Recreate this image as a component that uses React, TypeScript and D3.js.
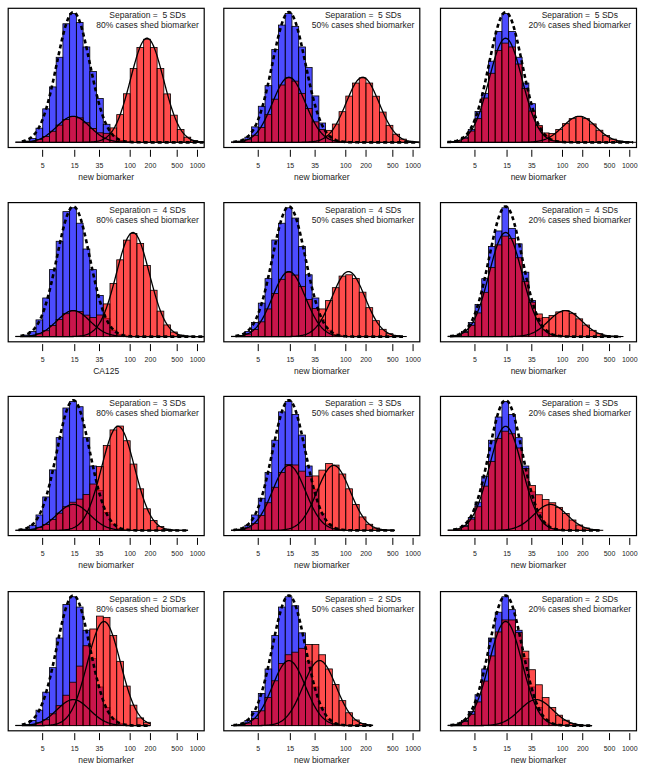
import React from "react";
import * as d3 from "d3";

// ---------- data ----------
const tickValues = [5, 15, 35, 100, 200, 500, 1000];
const separationSDs = [5, 4, 3, 2]; // one per row
const shedPercent = [80, 50, 20]; // one per column
const xAxisTitles = [
  ["new biomarker", "new biomarker", "new biomarker"],
  ["CA125", "new biomarker", "new biomarker"],
  ["new biomarker", "new biomarker", "new biomarker"],
  ["new biomarker", "new biomarker", "new biomarker"],
];

// histogram bins on log10 scale: first edge and width
const binStartLog10 = 0.3;
const binWidthLog10 = 0.1;

// control (blue) histograms, % of panel maximum
const controls5sd80 = [0.3, 1, 3, 11, 26, 43, 66, 92, 100, 93, 74, 55, 34, 14, 5, 1.5, 0.4, 0];
const controls5sd50 = [0.3, 1, 4, 12, 28, 44, 72, 91, 100, 90, 74, 58, 36, 15, 5, 1.5, 0.4, 0];
const controls5sd20 = [0.3, 1, 4, 10, 24, 38, 63, 86, 100, 86, 66, 46, 30, 12, 5, 1.5, 0.4, 0];
const controls4sd80 = [0.3, 1.2, 4, 13, 30, 52, 74, 97, 100, 88, 68, 52, 32, 14, 5, 1.5, 0.4, 0];
const controls4sd50 = [0.3, 1, 4, 11, 26, 45, 75, 88, 100, 92, 70, 48, 30, 13, 5, 1.5, 0.4, 0];
const controls4sd20 = [0.3, 1, 4, 11, 25, 45, 70, 82, 100, 84, 72, 50, 28, 14, 5, 1.5, 0.4, 0];
const controls3sd80 = [0.3, 1, 4, 12, 26, 47, 72, 95, 100, 96, 72, 50, 31, 14, 5, 1.5, 0.4, 0];
const controls3sd50 = [0.3, 1, 4, 12, 25, 45, 70, 92, 100, 90, 74, 50, 32, 13, 5, 1.5, 0.4, 0];
const controls3sd20 = [0.3, 1, 4, 10, 22, 42, 70, 88, 100, 90, 72, 50, 30, 14, 5, 1.5, 0.4, 0];
const controls2sd80 = [0.3, 1, 4, 12, 26, 45, 68, 94, 100, 92, 74, 52, 30, 14, 5, 1.5, 0.4, 0];
const controls2sd50 = [0.3, 1, 4, 11, 25, 44, 70, 92, 100, 93, 72, 50, 30, 14, 5, 1.5, 0.4, 0];
const controls2sd20 = [0.3, 1, 4, 11, 24, 44, 68, 88, 100, 90, 74, 52, 30, 14, 5, 1.5, 0.4, 0];

// case (red) histograms, % of panel maximum
const cases5sd80 = [0.1, 0.3, 0.8, 2.2, 4.6, 8.6, 13.4, 17.8, 20, 19, 15.2, 10.8, 7.4, 7, 11.2, 21.5, 37.7, 57.3, 73.6, 80, 73.6, 57.3, 37.6, 21.1, 10, 4, 1.4, 0.4];
const cases5sd50 = [0.2, 0.7, 2, 5.5, 11.5, 21.5, 33.5, 44.5, 50, 47.5, 38, 26.3, 15.9, 10, 9.3, 14.2, 23.8, 35.9, 46, 50, 46, 35.8, 23.5, 13.2, 6.3, 2.5, 0.9, 0.3];
const cases5sd20 = [0.3, 1, 3.2, 8.8, 18.4, 34.4, 53.6, 71.2, 77, 74, 60.8, 41.7, 24.3, 13, 7.3, 6.9, 9.9, 14.5, 18.4, 20, 18.4, 14.3, 9.4, 5.3, 2.5, 1, 0.3, 0.1];
const cases4sd80 = [0.1, 0.3, 0.8, 2.2, 4.6, 8.6, 13.4, 17.8, 20, 19.4, 16.7, 14.8, 16.8, 25.4, 41.2, 59.6, 74.9, 80, 72.3, 55.2, 36, 19.8, 9.1, 3.6, 1.2, 0.3, 0, 0];
const cases4sd50 = [0.2, 0.7, 2, 5.5, 11.5, 21.5, 33.5, 44.5, 50, 47.8, 39, 28.8, 21.8, 21.5, 28, 38, 47, 48, 45.2, 34.5, 22.5, 12.4, 5.7, 2.3, 0.8, 0.2, 0, 0];
const cases4sd20 = [0.3, 1, 3.2, 8.8, 18.4, 34.4, 53.6, 71.2, 78, 76.1, 61.2, 42.7, 26.7, 17.6, 14.8, 16.4, 19.2, 20.2, 18.1, 13.8, 9, 4.9, 2.3, 0.9, 0.3, 0.1, 0, 0];
const cases3sd80 = [0.1, 0.3, 0.8, 2.2, 4.6, 8.6, 13.4, 18.4, 21.9, 24.3, 27.9, 36, 49.6, 65.9, 78, 81, 69.6, 51.5, 32.3, 16.8, 7.7, 3, 1, 0.2, 0, 0, 0, 0];
const cases3sd50 = [0.2, 0.7, 2, 5.5, 11.5, 21.5, 33.5, 44.9, 51.2, 50.8, 46, 42, 42.3, 46.8, 52, 50.7, 43.8, 32.3, 20.2, 10.5, 4.8, 1.9, 0.6, 0.2, 0, 0, 0, 0];
const cases3sd20 = [0.3, 1, 3.2, 8.8, 18.4, 34.4, 53.6, 71.3, 77, 75, 64, 48, 34.9, 27.7, 24, 21.5, 17.9, 13.1, 8.1, 4.2, 1.9, 0.7, 0.2, 0, 0, 0, 0, 0];
const cases2sd80 = [0.1, 0.3, 0.8, 2.2, 4.6, 9.2, 15.5, 23.6, 33.7, 46.2, 62, 75, 85, 84, 70, 49.9, 30.7, 15.9, 6, 2.6, 0, 0, 0, 0, 0, 0, 0, 0];
const cases2sd50 = [0.2, 0.7, 2, 5.5, 11.5, 21.9, 34.8, 48.2, 55, 57, 60, 63, 63, 55, 44, 32, 19.4, 10, 4.4, 1.7, 0.5, 0, 0, 0, 0, 0, 0, 0];
const cases2sd20 = [0.3, 1, 3.2, 8.8, 18.4, 34.6, 54.1, 72.7, 82, 82, 72.2, 57.8, 43.4, 31.7, 21.8, 14, 8.1, 4.2, 1.8, 0.7, 0.2, 0, 0, 0, 0, 0, 0, 0];

const controlHists = [
  [controls5sd80, controls5sd50, controls5sd20],
  [controls4sd80, controls4sd50, controls4sd20],
  [controls3sd80, controls3sd50, controls3sd20],
  [controls2sd80, controls2sd50, controls2sd20],
];
const caseHists = [
  [cases5sd80, cases5sd50, cases5sd20],
  [cases4sd80, cases4sd50, cases4sd20],
  [cases3sd80, cases3sd50, cases3sd20],
  [cases2sd80, cases2sd50, cases2sd20],
];

// normal density curves (log10 scale)
const controlMeanLog10 = 1.155;
const caseShiftedMeanLog10 = [2.25, 2.04, 1.82, 1.61]; // per row
const curveSdLog10 = 0.245;
const controlCurvePeak = 101;
const curveFromLog10 = [
  [0.39, 0.33, 0.29],
  [0.37, 0.36, 0.33],
  [0.34, 0.33, 0.375],
  [0.39, 0.33, 0.335],
];
const curveToLog10 = [
  [3.09, 3.08, 3.05],
  [3.1, 2.85, 2.87],
  [2.86, 2.73, 2.55],
  [2.3, 2.38, 2.44],
];

// ---------- layout ----------
const W = 645;
const H = 770;
const panelLefts = [8.2, 223.8, 440.5];
const panelTops = [8.3, 202.6, 396.4, 591.6];
const panelW = 196;
const panelH = 139.2;
const xDomainLog10 = [0.187, 3.1];
const FONT = "'Liberation Sans', Arial, Helvetica, sans-serif";

function Panel({ r, c }: { r: number; c: number }) {
  const left = panelLefts[c];
  const top = panelTops[r];
  const bottom = top + panelH;
  const x = d3
    .scaleLog()
    .domain([Math.pow(10, xDomainLog10[0]), Math.pow(10, xDomainLog10[1])])
    .range([left, left + panelW]);
  const y = d3.scaleLinear().domain([-4, 104]).range([bottom, top]);
  const p = shedPercent[c] / 100;
  const clipId = `clip-${r}-${c}`;

  const bars = (vals: number[]) =>
    vals
      .map((v, i) => ({
        x0: Math.pow(10, binStartLog10 + i * binWidthLog10),
        x1: Math.pow(10, binStartLog10 + (i + 1) * binWidthLog10),
        v,
      }))
      .filter((d) => d.v > 0);

  const curve = (mean: number, peak: number) => {
    const from = curveFromLog10[r][c];
    const to = curveToLog10[r][c];
    const pts = d3.range(0, 241).map((k) => from + ((to - from) * k) / 240);
    return d3
      .line<number>()
      .x((L) => x(Math.pow(10, L)))
      .y((L) => y(peak * Math.exp(-0.5 * Math.pow((L - mean) / curveSdLog10, 2))))(pts) as string;
  };

  const blue = bars(controlHists[r][c]);
  const red = bars(caseHists[r][c]);
  const cx = left + 139.3;

  return (
    <g>
      <defs>
        <clipPath id={clipId}>
          <rect x={left} y={top} width={panelW} height={panelH} />
        </clipPath>
      </defs>
      <g clipPath={`url(#${clipId})`}>
        {blue.map((d, i) => (
          <rect
            key={"b" + i}
            x={x(d.x0)}
            y={y(d.v)}
            width={x(d.x1) - x(d.x0)}
            height={y(0) - y(d.v)}
            fill="rgba(0,0,255,0.7)"
            stroke="#000"
            strokeWidth={0.8}
          />
        ))}
        {red.map((d, i) => (
          <rect
            key={"r" + i}
            x={x(d.x0)}
            y={y(d.v)}
            width={x(d.x1) - x(d.x0)}
            height={y(0) - y(d.v)}
            fill="rgba(255,0,0,0.7)"
            stroke="#000"
            strokeWidth={0.8}
          />
        ))}
        <path d={curve(controlMeanLog10, (1 - p) * controlCurvePeak)} fill="none" stroke="#000" strokeWidth={1.3} />
        <path d={curve(caseShiftedMeanLog10[r], p * controlCurvePeak)} fill="none" stroke="#000" strokeWidth={1.3} />
        <path
          d={curve(controlMeanLog10, controlCurvePeak)}
          fill="none"
          stroke="#000"
          strokeWidth={2.6}
          strokeDasharray="4 3"
        />
      </g>
      <rect x={left} y={top} width={panelW} height={panelH} fill="none" stroke="#000" strokeWidth={1.2} />
      {tickValues.map((t) => (
        <g key={t}>
          <line x1={x(t)} x2={x(t)} y1={bottom + 2.3} y2={bottom + 9.3} stroke="#000" strokeWidth={1} />
          <text x={x(t)} y={bottom + 20} textAnchor="middle" fontSize={7} fill="#222" fontFamily={FONT}>
            {t}
          </text>
        </g>
      ))}
      <text x={left + panelW / 2} y={bottom + 32} textAnchor="middle" fontSize={8.5} fill="#222" fontFamily={FONT}>
        {xAxisTitles[r][c]}
      </text>
      <text x={cx} y={top + 10} textAnchor="middle" fontSize={8.5} fill="#222" fontFamily={FONT} style={{ whiteSpace: "pre" }}>
        {`Separation =  ${separationSDs[r]} SDs`}
      </text>
      <text x={cx} y={top + 20} textAnchor="middle" fontSize={8.5} fill="#222" fontFamily={FONT}>
        {`${shedPercent[c]}% cases shed biomarker`}
      </text>
    </g>
  );
}

export default function App() {
  const cells: { r: number; c: number }[] = [];
  for (let r = 0; r < 4; r++) for (let c = 0; c < 3; c++) cells.push({ r, c });
  return (
    <svg
      width={W}
      height={H}
      style={{ position: "absolute", left: 0, top: 0, background: "#fff" }}
    >
      <rect x={0} y={0} width={W} height={H} fill="#fff" />
      {cells.map(({ r, c }) => (
        <Panel key={`${r}-${c}`} r={r} c={c} />
      ))}
    </svg>
  );
}
